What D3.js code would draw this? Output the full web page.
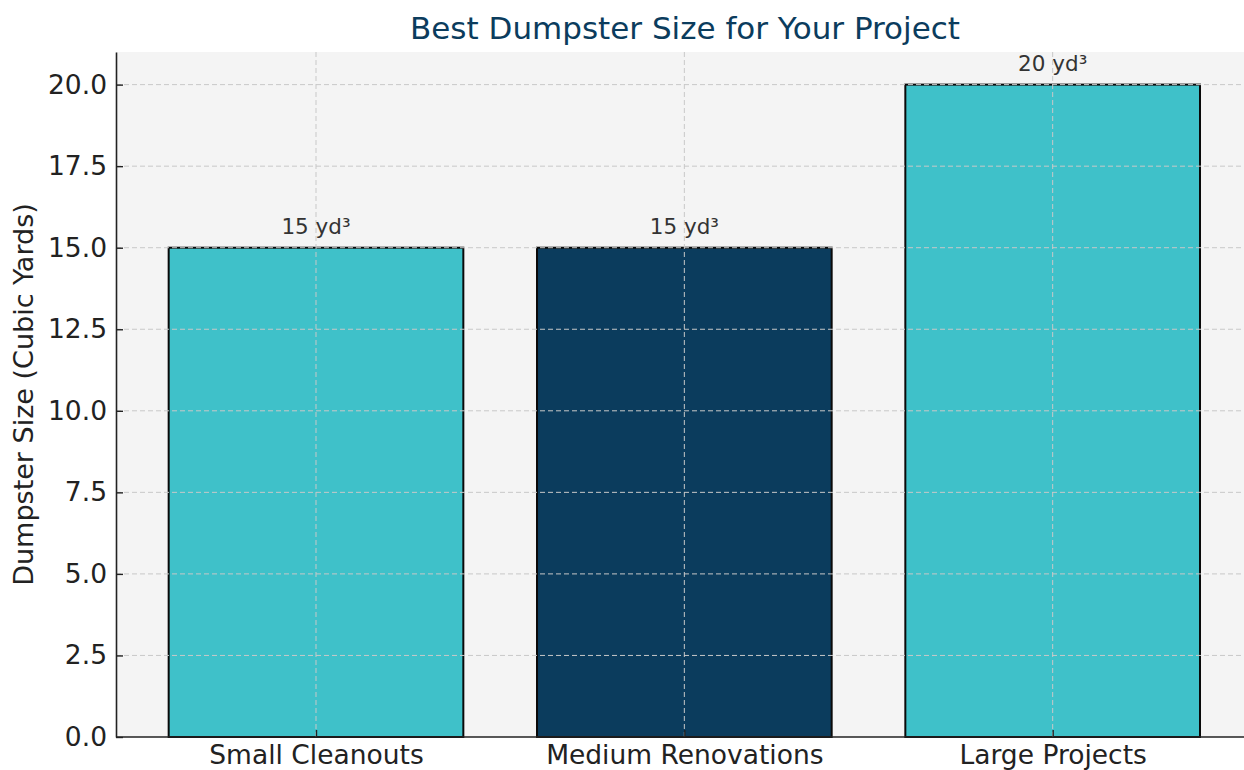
<!DOCTYPE html>
<html>
<head>
<meta charset="utf-8">
<title>Best Dumpster Size</title>
<script src="https://cdn.jsdelivr.net/npm/d3@7"></script>
<style>
  body { margin: 0; background: #fff; }
  svg { font-family: "DejaVu Sans", sans-serif; }
</style>
</head>
<body>
<svg id="chart" width="1244" height="770"></svg>
<script>
// chart data
const categories = ["Small Cleanouts", "Medium Renovations", "Large Projects"];
const sizes = [15, 15, 20];
const barColors = ["#3fc1c9", "#0b3c5d", "#3fc1c9"];
const yTicks = [0, 2.5, 5, 7.5, 10, 12.5, 15, 17.5, 20];

const svg = d3.select("#chart");
const plotL = 116, plotT = 52, plotB = 737;

// linear x in category units, like matplotlib's bar axis
const x = d3.scaleLinear().domain([-0.543, 2.457]).range([plotL, plotL + 1105]);
const y = d3.scaleLinear().domain([0, 21]).range([plotB, plotT]);
const barW = 0.8;

// plot background, running off the right edge
svg.append("rect")
  .attr("x", plotL).attr("y", plotT)
  .attr("width", 1244 - plotL).attr("height", plotB - plotT)
  .attr("fill", "#f4f4f4");

// bars
svg.selectAll("rect.bar")
  .data(sizes)
  .enter().append("rect")
  .attr("class", "bar")
  .attr("x", (d, i) => x(i - barW / 2))
  .attr("width", (d, i) => x(i + barW / 2) - x(i - barW / 2))
  .attr("y", d => y(d))
  .attr("height", d => y(0) - y(d))
  .attr("fill", (d, i) => barColors[i])
  .attr("stroke", "#0a0a0a")
  .attr("stroke-width", 2);

// grid on top of bars
const grid = svg.append("g").attr("stroke", "#c8c8c8").attr("stroke-dasharray", "5,3").attr("stroke-width", 1);
grid.selectAll("line.h").data(yTicks.slice(1)).enter().append("line")
  .attr("x1", plotL).attr("x2", 1244)
  .attr("y1", d => y(d)).attr("y2", d => y(d));
grid.selectAll("line.v").data(categories).enter().append("line")
  .attr("x1", (d, i) => x(i)).attr("x2", (d, i) => x(i))
  .attr("y1", plotT).attr("y2", plotB);

// axes with inward ticks
const yAxis = d3.axisLeft(y).tickValues(yTicks).tickFormat(d3.format(".1f"))
  .tickSizeInner(-7).tickSizeOuter(0).tickPadding(9);
const gy = svg.append("g").attr("transform", `translate(${plotL},0)`).call(yAxis);
gy.select(".domain").attr("stroke", "#222").attr("stroke-width", 1.6);
gy.selectAll(".tick line").attr("stroke", "#222").attr("stroke-width", 1.4);
gy.selectAll(".tick text").attr("font-size", 26.5).attr("fill", "#222").attr("font-family", "DejaVu Sans");

const xAxis = d3.axisBottom(x).tickValues(d3.range(categories.length))
  .tickFormat(i => categories[i]).tickSizeInner(-7).tickSizeOuter(0).tickPadding(8);
const gx = svg.append("g").attr("transform", `translate(0,${plotB})`).call(xAxis);
gx.select(".domain").attr("d", `M${plotL},0H1244`).attr("stroke", "#222").attr("stroke-width", 1.6);
gx.selectAll(".tick line").attr("stroke", "#222").attr("stroke-width", 1.4);
gx.selectAll(".tick text").attr("font-size", 26.5).attr("fill", "#222").attr("font-family", "DejaVu Sans");

// value labels
svg.selectAll("text.val")
  .data(sizes)
  .enter().append("text")
  .attr("class", "val")
  .attr("x", (d, i) => x(i))
  .attr("y", d => y(d) - 14)
  .attr("text-anchor", "middle")
  .attr("font-size", 21.5)
  .attr("fill", "#333")
  .text(d => d + " yd³");

// title and y label
svg.append("text")
  .attr("x", 685).attr("y", 39)
  .attr("text-anchor", "middle")
  .attr("font-size", 31)
  .attr("fill", "#0b3c5d")
  .text("Best Dumpster Size for Your Project");

svg.append("text")
  .attr("transform", `translate(33,${(plotT + plotB) / 2}) rotate(-90)`)
  .attr("text-anchor", "middle")
  .attr("font-size", 27)
  .attr("fill", "#222")
  .text("Dumpster Size (Cubic Yards)");
</script>
</body>
</html>
